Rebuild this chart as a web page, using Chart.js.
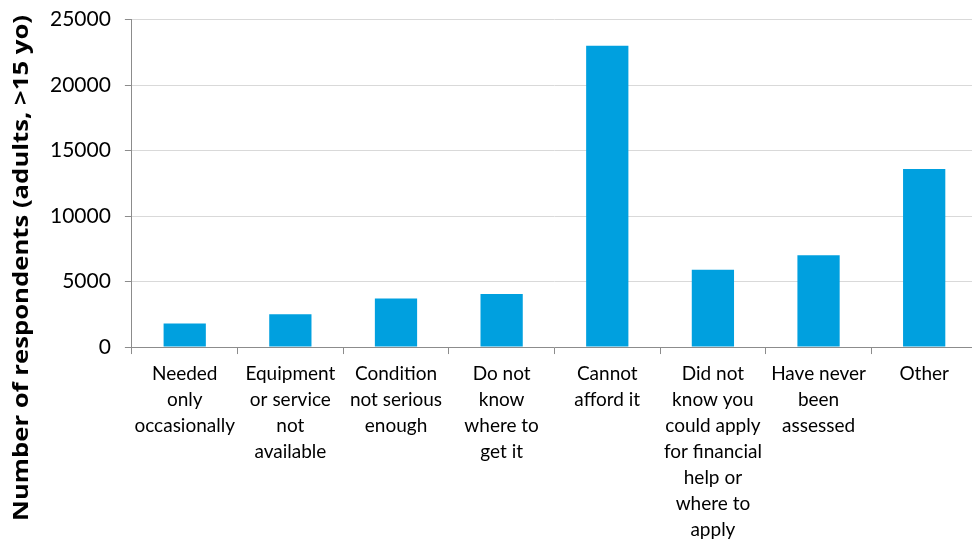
<!DOCTYPE html>
<html>
<head>
<meta charset="utf-8">
<script src="https://cdn.jsdelivr.net/npm/chart.js@4.4.1/dist/chart.umd.min.js"></script>
<style>
  html, body { margin: 0; padding: 0; background: #ffffff; overflow: hidden; }
  #outer { position: relative; width: 972px; height: 540px; overflow: hidden; }
  #wrap { position: absolute; left: 0; top: -7px; width: 978px; height: 550px; }
</style>
</head>
<body>
<div id="outer"><div id="wrap"><canvas id="c"></canvas></div></div>
<script>
const categories = [
  ["Needed", "only", "occasionally"],
  ["Equipment", "or service", "not", "available"],
  ["Condition", "not serious", "enough"],
  ["Do not", "know", "where to", "get it"],
  ["Cannot", "afford it"],
  ["Did not", "know you", "could apply", "for financial", "help or", "where to", "apply"],
  ["Have never", "been", "assessed"],
  ["Other"]
];
const respondents = [1800, 2500, 3700, 4050, 23000, 5900, 7000, 13600];
const yTicks = [0, 5000, 10000, 15000, 20000, 25000];
const yTitle = "Number of respondents (adults, >15 yo)";

const labelFont = "'Lato', 'Open Sans', sans-serif";

// Draws the rotated y-axis title centred on the full page height, as in the source.
const yTitlePlugin = {
  id: 'yTitlePlugin',
  afterDraw(chart) {
    const ctx = chart.ctx;
    ctx.save();
    ctx.font = "bold 21px 'Open Sans', sans-serif";
    ctx.fillStyle = '#000000';
    ctx.textAlign = 'center';
    ctx.textBaseline = 'middle';
    const w = ctx.measureText(yTitle).width;
    const target = 506;
    ctx.translate(22, 275);
    ctx.rotate(-Math.PI / 2);
    ctx.scale(target / w, 1);
    ctx.fillText(yTitle, 0, 0);
    ctx.restore();
  }
};

new Chart(document.getElementById('c'), {
  type: 'bar',
  data: {
    labels: categories,
    datasets: [{
      data: respondents,
      backgroundColor: '#00A0DF',
      borderWidth: 0,
      barPercentage: 0.4,
      categoryPercentage: 1.0
    }]
  },
  plugins: [yTitlePlugin],
  options: {
    responsive: true,
    maintainAspectRatio: false,
    animation: false,
    devicePixelRatio: 1,
    layout: { padding: { top: 0, right: 1, bottom: -7, left: 36 } },
    plugins: { legend: { display: false }, tooltip: { enabled: false } },
    scales: {
      x: {
        offset: true,
        grid: {
          offset: true,
          drawOnChartArea: false,
          drawTicks: true,
          tickLength: 7,
          tickColor: '#8c8c8c',
          tickWidth: 1
        },
        border: { color: '#8c8c8c', width: 1 },
        ticks: {
          color: '#000000',
          font: { family: labelFont, size: 19, lineHeight: 1.368 },
          maxRotation: 0,
          minRotation: 0,
          autoSkip: false,
          padding: 7
        }
      },
      y: {
        min: 0,
        max: 25000,
        afterBuildTicks: (axis) => { axis.ticks = yTicks.map(v => ({ value: v })); },
        grid: {
          color: '#d9d9d9',
          lineWidth: 1,
          drawTicks: true,
          tickLength: 7,
          tickColor: '#8c8c8c'
        },
        border: { color: '#8c8c8c', width: 1 },
        ticks: {
          color: '#000000',
          font: { family: "'Lato', sans-serif", size: 21 },
          padding: 14,
          callback: (v) => String(v)
        }
      }
    }
  }
});
</script>
</body>
</html>
